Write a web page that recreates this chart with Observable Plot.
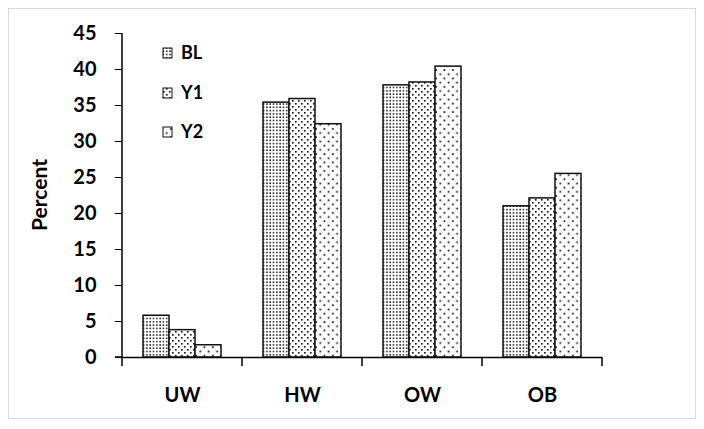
<!DOCTYPE html>
<html><head><meta charset="utf-8">
<script src="https://cdn.jsdelivr.net/npm/d3@7"></script>
<script src="https://cdn.jsdelivr.net/npm/@observablehq/plot@0.6"></script>
<style>
body{margin:0;background:#fff;}
#chart{position:relative;width:704px;height:429px;}
</style></head><body>
<svg width="0" height="0" style="position:absolute">
<defs>
<pattern id="pBL" width="3.3" height="3.3" patternUnits="userSpaceOnUse">
  <rect width="3.3" height="3.3" fill="#fff"/><rect x="1" y="1" width="1.5" height="1.5" fill="#111"/>
</pattern>
<pattern id="pY1" width="6" height="6" patternUnits="userSpaceOnUse">
  <rect width="6" height="6" fill="#fff"/><rect x="1" y="1" width="1.6" height="1.6" fill="#111"/><rect x="4" y="4" width="1.6" height="1.6" fill="#111"/>
</pattern>
<pattern id="pY2" width="8.4" height="8.4" patternUnits="userSpaceOnUse">
  <rect width="8.4" height="8.4" fill="#fff"/><rect x="2" y="2" width="1.7" height="1.7" fill="#111"/><rect x="6.2" y="6.2" width="1.7" height="1.7" fill="#111"/>
</pattern>
</defs></svg>
<div id="chart"></div>
<script>
const categories = ["UW", "HW", "OW", "OB"];
const series = ["BL", "Y1", "Y2"];
const BL = [5.8, 35.4, 37.8, 21.0];
const Y1 = [3.8, 35.9, 38.2, 22.1];
const Y2 = [1.7, 32.4, 40.4, 25.5];
const yTicks = [0, 5, 10, 15, 20, 25, 30, 35, 40, 45];
const yLabel = "Percent";
const patternIds = {BL: "pBL", Y1: "pY1", Y2: "pY2"};

const valuesBySeries = {BL, Y1, Y2};
const data = categories.flatMap((c, i) => series.map(s => ({cat: c, series: s, value: valuesBySeries[s][i]})));

const font = "Lato, 'Open Sans', sans-serif";
const plot = Plot.plot({
  width: 704, height: 429,
  marginLeft: 122, marginRight: 102, marginTop: 33, marginBottom: 72,
  style: {fontFamily: font, fontWeight: "bold", fontSize: "20px", color: "#000", background: "transparent", overflow: "visible"},
  fx: {domain: categories, padding: 0, label: null, axis: "bottom", tickSize: 0, tickPadding: 30},
  x: {domain: series, paddingInner: 0, paddingOuter: 0.75, axis: null},
  y: {domain: [0, 45], ticks: yTicks, tickSize: 7, tickPadding: 19, label: null},
  marks: [
    Plot.barY(data, {fx: "cat", x: "series", y: "value", fill: d => `url(#${patternIds[d.series]})`, stroke: "#111", strokeWidth: 1.5}),
    Plot.ruleY([0], {stroke: "#000", strokeWidth: 1.5})
  ]
});
document.getElementById("chart").appendChild(plot);

const svg = d3.select(plot);
const ys = plot.scale("y");
const fx = plot.scale("fx");
const x0 = fx.apply(categories[0]);
// y axis line
svg.append("line").attr("x1", x0).attr("x2", x0).attr("y1", ys.apply(0)).attr("y2", ys.apply(45))
  .attr("stroke", "#000").attr("stroke-width", 1.5);
svg.append("line").attr("x1", x0 - 7).attr("x2", x0).attr("y1", ys.apply(0)).attr("y2", ys.apply(0))
  .attr("stroke", "#000").attr("stroke-width", 1.5);
// y axis title
svg.append("text").attr("transform", `translate(40,${(ys.apply(0) + ys.apply(45)) / 2}) rotate(-90)`)
  .attr("text-anchor", "middle").attr("dy", "0.35em")
  .attr("font-family", font).attr("font-weight", "bold").attr("font-size", 21).text(yLabel);
// category boundary ticks
const bounds = categories.map(c => fx.apply(c)).concat([fx.apply(categories[categories.length - 1]) + fx.bandwidth]);
svg.append("g").selectAll("line").data(bounds).join("line")
  .attr("x1", d => d).attr("x2", d => d).attr("y1", ys.apply(0)).attr("y2", ys.apply(0) + 9)
  .attr("stroke", "#000").attr("stroke-width", 1.5);
// legend
const lg = svg.append("g").attr("font-family", font).attr("font-weight", "bold").attr("font-size", 18).attr("text-anchor", "start");
const legendY = [53, 93, 132];
series.forEach((s, i) => {
  lg.append("rect").attr("x", 163).attr("y", legendY[i] - 5).attr("width", 9).attr("height", 10)
    .attr("fill", `url(#${patternIds[s]})`).attr("stroke", "#111").attr("stroke-width", 1);
  lg.append("text").attr("x", 181).attr("y", legendY[i]).attr("dy", "0.35em").text(s);
});
// outer border
svg.append("rect").attr("x", 8.5).attr("y", 8.5).attr("width", 687).attr("height", 410)
  .attr("fill", "none").attr("stroke", "#d9d9d9").attr("stroke-width", 1);
</script>
</body></html>
